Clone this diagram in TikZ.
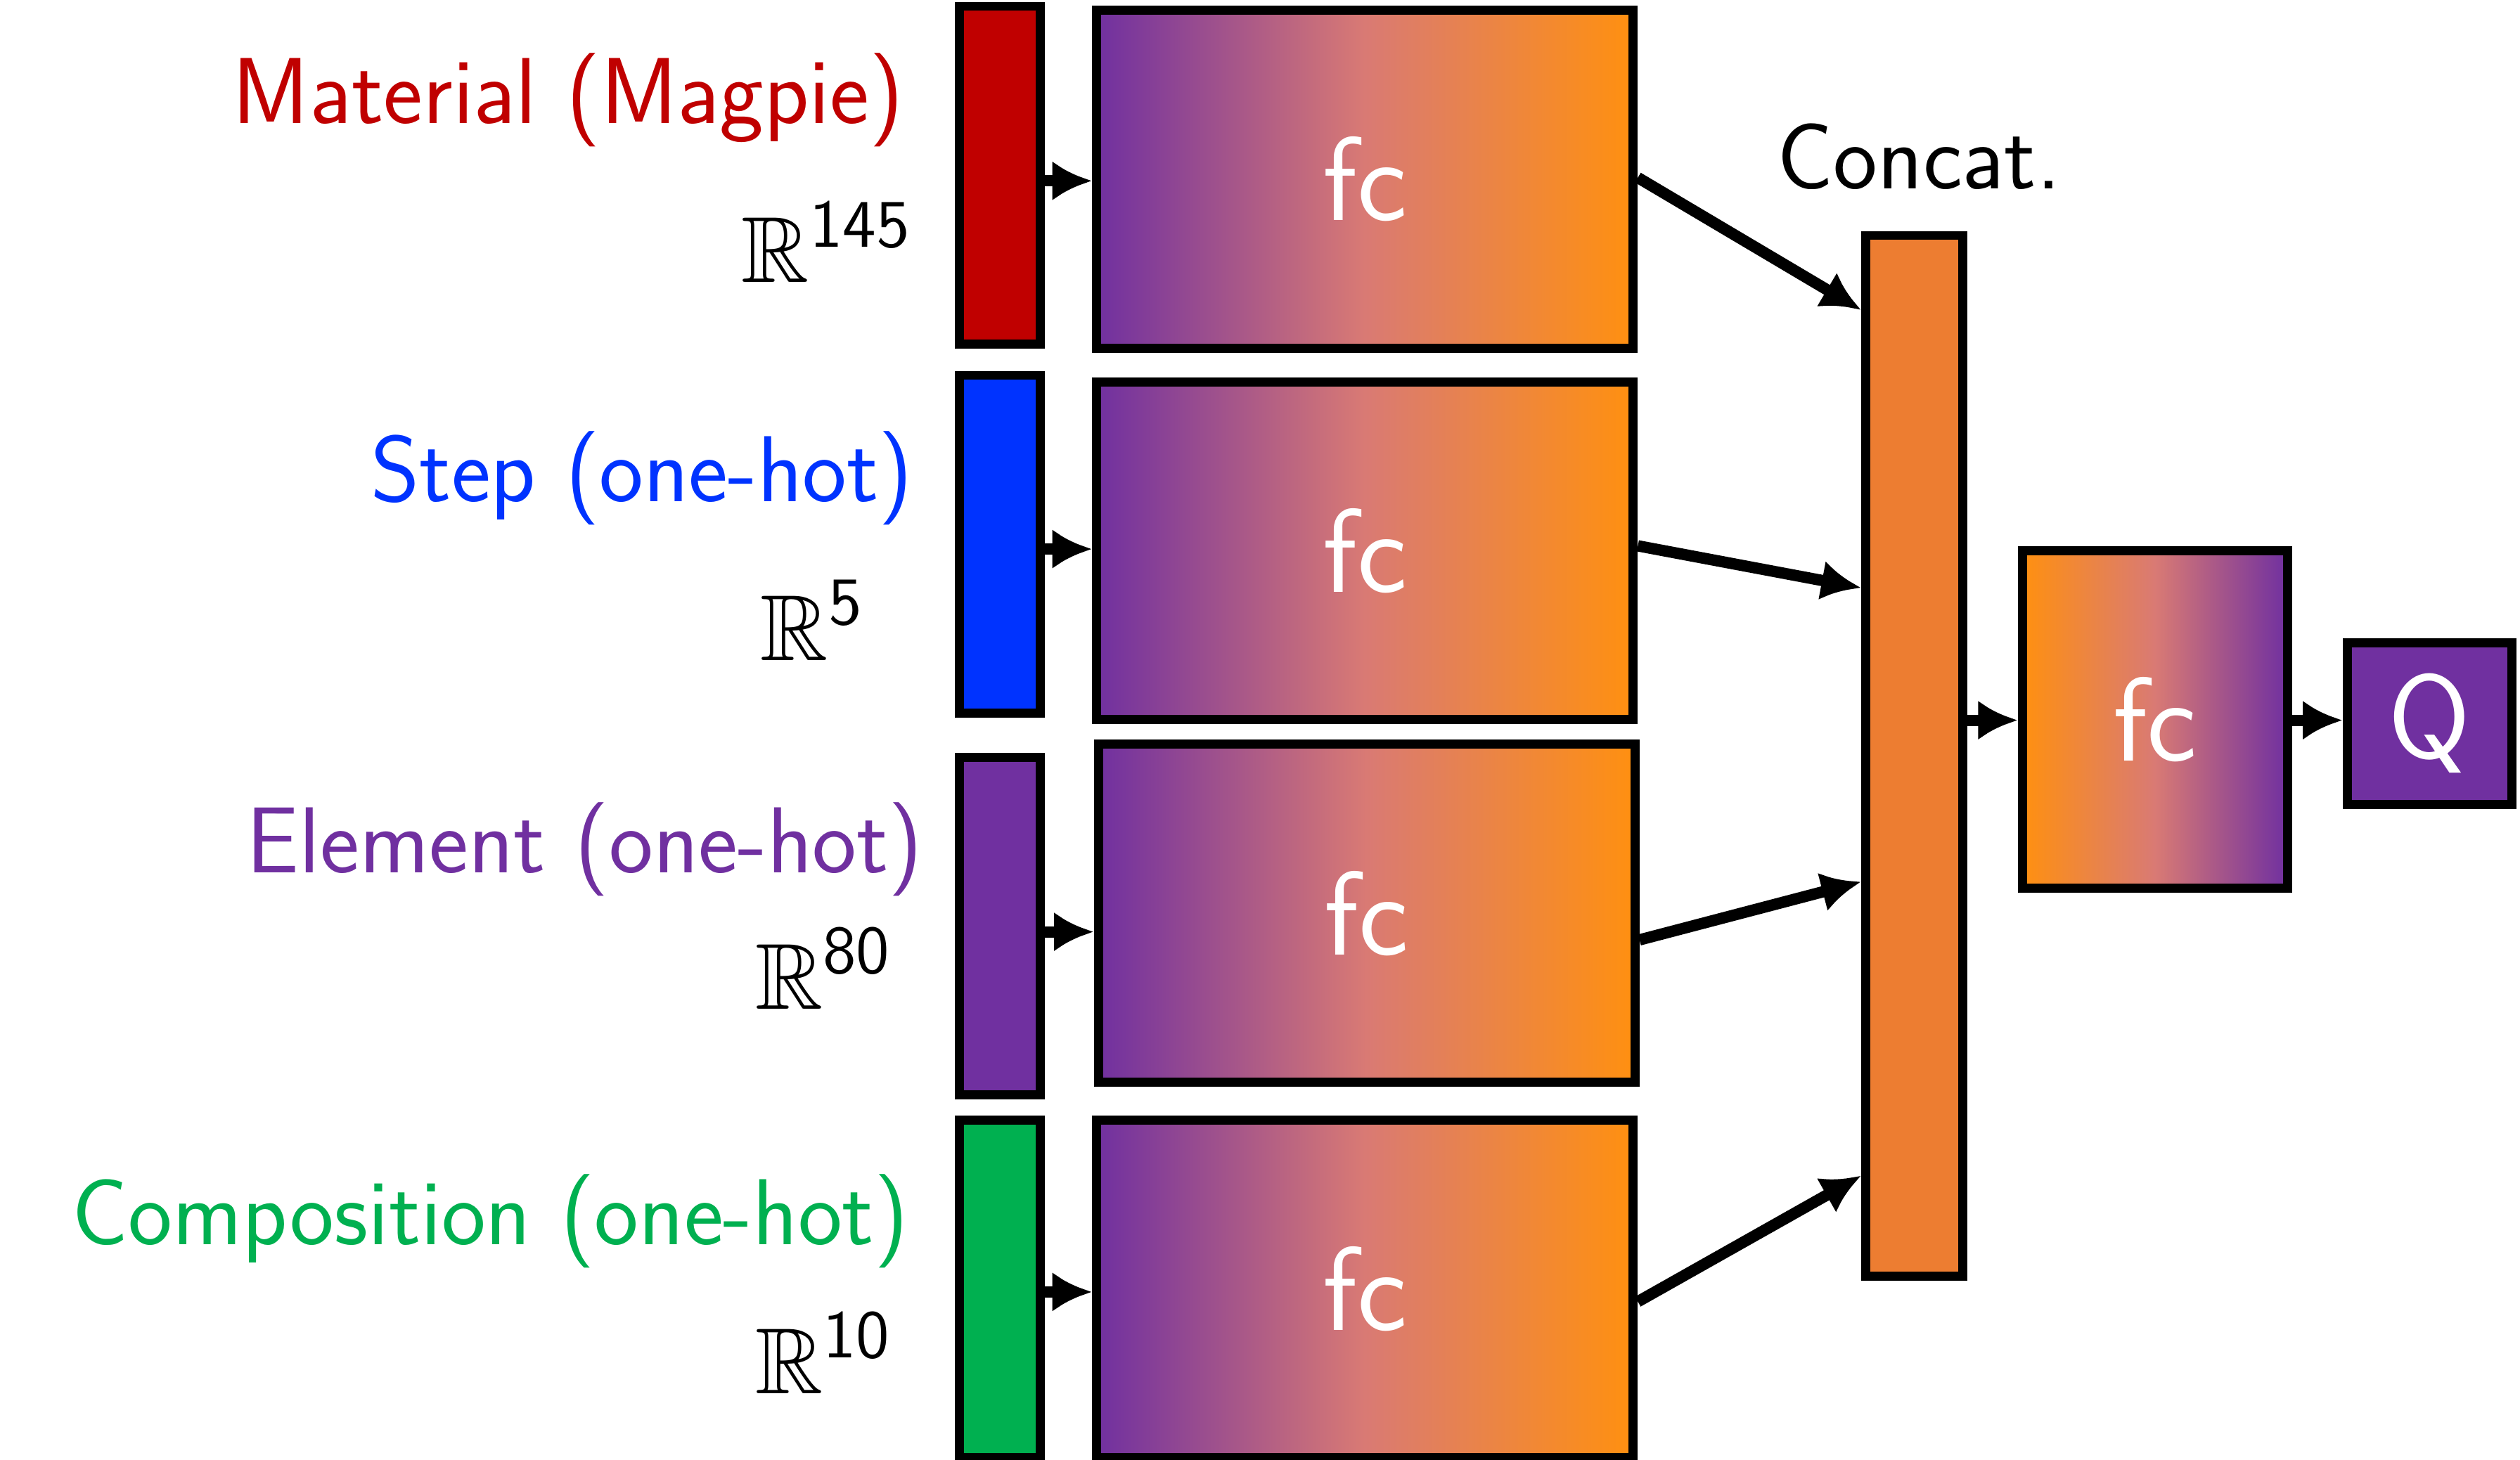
\documentclass[tikz,border=0pt]{standalone}
\usepackage{amssymb}
\usetikzlibrary{arrows.meta}
\definecolor{cred}{HTML}{C00000}
\definecolor{cblue}{HTML}{0033FF}
\definecolor{cpur}{HTML}{7030A0}
\definecolor{cgreen}{HTML}{00B050}
\definecolor{corg}{HTML}{ED7D31}
\definecolor{gl}{HTML}{7030A0}
\definecolor{gm}{HTML}{D97A74}
\definecolor{gr}{HTML}{FF9010}
\begin{document}
\begin{tikzpicture}[x=0.01cm,y=-0.01cm,
  box/.style={draw=black,line width=1.6pt,inner sep=0pt},
  fcbox/.style={box,left color=gl,right color=gr,middle color=gm,minimum width=3.32cm,minimum height=2.09cm,font=\sffamily\fontsize{21}{25}\selectfont,text=white},
  bar/.style={box,minimum width=0.5cm,minimum height=2.09cm},
  lab/.style={anchor=east,font=\sffamily\fontsize{16.5}{20}\selectfont,inner sep=0pt},
  dim/.style={anchor=center,font=\fontsize{16.5}{20}\selectfont,inner sep=0pt},
  arr/.style={line width=2pt,-{Latex[length=7pt,width=7pt]}}]
\useasboundingbox (0,0) rectangle (1560,904);
\node[bar,fill=cred] (b1) at (619,108.5) {};
\node[bar,fill=cblue] (b2) at (619,337) {};
\node[bar,fill=cpur] (b3) at (619,573.5) {};
\node[bar,fill=cgreen] (b4) at (619,798) {};
\node[fcbox] (f1) at (845,111) {fc};
\node[fcbox] (f2) at (845,341) {fc};
\node[fcbox] (f3) at (846,565.5) {fc};
\node[fcbox] (f4) at (845,798) {fc};
\node[box,fill=corg,minimum width=0.6cm,minimum height=6.44cm] (cc) at (1185,468) {};
\node[box,left color=gr,right color=gl,middle color=gm,minimum width=1.64cm,minimum height=2.09cm,font=\sffamily\fontsize{21}{25}\selectfont,text=white] (f5) at (1334,445.5) {fc};
\node[box,fill=cpur,minimum width=1.02cm,minimum height=1.0cm,font=\sffamily\fontsize{21}{25}\selectfont,text=white] (q) at (1504,448) {Q};
\node[lab,text=cred] (l1) at (560,62) {Material (Magpie)};
\node[lab,text=cblue] (l2) at (566,296) {Step (one-hot)};
\node[lab,text=cpur] (l3) at (572,526) {Element (one-hot)};
\node[lab,text=cgreen] (l4) at (563,756) {Composition (one-hot)};
\node[dim] (r1) at (512,150) {$\mathbb{R}^{\mathsf{145}}$};
\node[dim] (r2) at (503,384) {$\mathbb{R}^{\mathsf{5}}$};
\node[dim] (r3) at (510,600) {$\mathbb{R}^{\mathsf{80}}$};
\node[dim] (r4) at (510,838) {$\mathbb{R}^{\mathsf{10}}$};
\node[font=\sffamily\fontsize{16.5}{20}\selectfont,inner sep=0pt] (ct) at (1188,97) {Concat.};
\draw[arr] (b1.east |- 0,112) -- (f1.west |- 0,112);
\draw[arr] (b2.east |- 0,340) -- (f2.west |- 0,340);
\draw[arr] (b3.east |- 0,577) -- (f3.west |- 0,577);
\draw[arr] (b4.east |- 0,800) -- (f4.west |- 0,800);
\draw[arr] (f1.east |- 0,110) -- (cc.west |- 0,192);
\draw[arr] (f2.east |- 0,338) -- (cc.west |- 0,364);
\draw[arr] (f3.east |- 0,582) -- (cc.west |- 0,546);
\draw[arr] (f4.east |- 0,806) -- (cc.west |- 0,728);
\draw[arr] (cc.east |- 0,446) -- (f5.west |- 0,446);
\draw[arr] (f5.east |- 0,446) -- (q.west |- 0,446);
\end{tikzpicture}
\end{document}
